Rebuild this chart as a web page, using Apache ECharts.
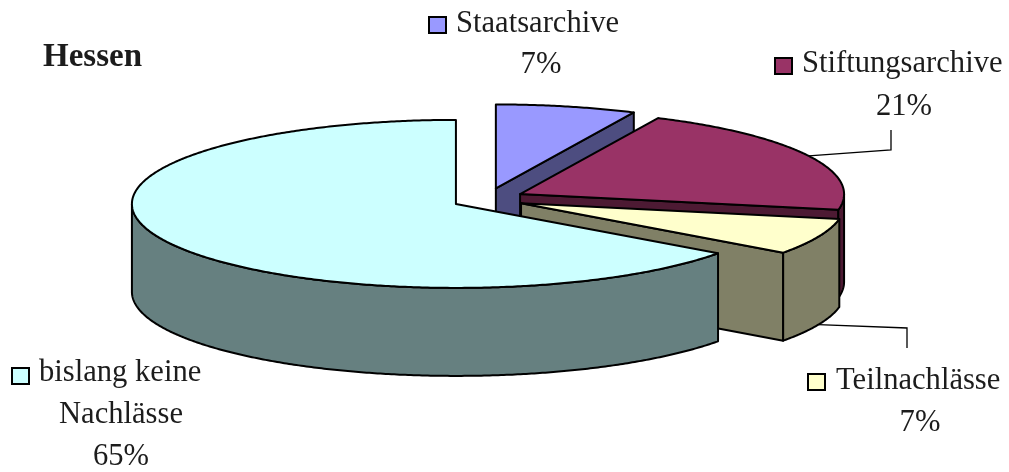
<!DOCTYPE html>
<html>
<head>
<meta charset="utf-8">
<title>Hessen</title>
<script src="https://cdn.jsdelivr.net/npm/echarts@6/dist/echarts.min.js"></script>
<style>
  html, body { margin: 0; padding: 0; background: #fff; }
  #chart { width: 1009px; height: 472px; }
</style>
</head>
<body>
<div id="chart"></div>
<script>
// Slices run clockwise from twelve o'clock.
const categories = ['Staatsarchive', 'Stiftungsarchive', 'Teilnachlässe', 'bislang keine'];
const categoryExtraLines = [[], [], [], ['Nachlässe']];
const shares = [7, 21, 7, 65];

const topColours = ['#9999FF', '#993366', '#FFFFCC', '#CCFFFF'];
const sideColours = ['#4D4D80', '#4D1A33', '#808066', '#668080'];

// Pie geometry: a tilted disc with every slice pulled out along its mid-angle.
const pie = {
  cx: 488, cy: 199, rx: 324, ry: 84, depth: 88,
  explode: 36, explodeTilt: 0.3
};

// Caption placement for each slice: swatch corner, text start, text baselines.
const captions = [
  { swatch: [429, 17], textX: 456, baseline: 33, centreX: 541, lineGap: 41 },
  { swatch: [775, 58], textX: 802, baseline: 73, centreX: 904, lineGap: 43 },
  { swatch: [808, 374], textX: 836, baseline: 390, centreX: 920, lineGap: 42 },
  { swatch: [12, 368], textX: 39, baseline: 382, centreX: 121, lineGap: 42 }
];

// Leader lines: bend points, from the rim outwards. Only the two side slices have one.
const leaders = [
  null,
  { bend: [[891, 150], [891, 130]], lower: false },
  { bend: [[907, 328], [907, 348]], lower: true },
  null
];

const FONT = '"Liberation Serif", serif';
const TEXT_COLOUR = '#1c1c1c';
const FONT_SIZE = 30.6;
const total = shares.reduce((a, b) => a + b, 0);
const rad = d => d * Math.PI / 180;

function sliceAngles(index) {
  let before = 0;
  for (let i = 0; i < index; i++) before += shares[i];
  const start = before / total * 360;
  return { start, end: start + shares[index] / total * 360 };
}

function rimPoint(centre, angle, drop) {
  return [
    centre[0] + pie.rx * Math.sin(rad(angle)),
    centre[1] - pie.ry * Math.cos(rad(angle)) + (drop || 0)
  ];
}

function arcPoints(centre, from, to, drop) {
  const pts = [];
  const steps = Math.max(2, Math.ceil((to - from) * 2));
  for (let i = 0; i <= steps; i++) {
    pts.push(rimPoint(centre, from + (to - from) * i / steps, drop));
  }
  return pts;
}

function textEl(text, x, baseline, align, weight) {
  return {
    type: 'text',
    silent: true,
    style: {
      text,
      x,
      y: baseline - FONT_SIZE * 0.29,
      textAlign: align,
      textVerticalAlign: 'middle',
      fill: TEXT_COLOUR,
      font: (weight || 'normal') + ' ' + FONT_SIZE + 'px ' + FONT
    }
  };
}

function renderSlice(params, api) {
  const i = params.dataIndex;
  const share = api.value(0);
  const { start, end } = sliceAngles(i);
  const mid = (start + end) / 2;
  const centre = [
    pie.cx + pie.explode * Math.sin(rad(mid)),
    pie.cy - pie.explode * pie.explodeTilt * Math.cos(rad(mid))
  ];
  const edge = { stroke: '#000', lineWidth: 2, lineJoin: 'round' };
  const children = [];
  const below = p => [p[0], p[1] + pie.depth];

  // Cut faces that turn towards the viewer.
  const cutFace = angle => {
    const rim = rimPoint(centre, angle);
    children.push({
      type: 'polygon',
      shape: { points: [centre, rim, below(rim), below(centre)] },
      style: Object.assign({ fill: sideColours[i] }, edge)
    });
  };
  if (end % 360 > 0 && end < 180) cutFace(end);
  if (start > 180) cutFace(start);

  // Curved outer wall, only the part on the near half of the disc.
  const wallFrom = Math.max(start, 90);
  const wallTo = Math.min(end, 270);
  if (wallTo > wallFrom) {
    const topArc = arcPoints(centre, wallFrom, wallTo);
    const lowArc = arcPoints(centre, wallFrom, wallTo, pie.depth).reverse();
    children.push({
      type: 'polygon',
      shape: { points: topArc.concat(lowArc) },
      style: Object.assign({ fill: sideColours[i] }, edge)
    });
  }

  // Top surface.
  children.push({
    type: 'polygon',
    shape: { points: [centre].concat(arcPoints(centre, start, end)) },
    style: Object.assign({ fill: topColours[i] }, edge)
  });

  // Leader from the rim at the slice's mid-angle.
  if (leaders[i]) {
    const from = rimPoint(centre, mid, leaders[i].lower ? pie.depth : 0);
    children.push({
      type: 'polyline',
      shape: { points: [from].concat(leaders[i].bend) },
      style: { stroke: '#000', lineWidth: 1.3, fill: null }
    });
  }

  // Caption: swatch, name, percentage.
  const cap = captions[i];
  children.push({
    type: 'rect',
    shape: { x: cap.swatch[0], y: cap.swatch[1], width: 17, height: 16 },
    style: { fill: topColours[i], stroke: '#000', lineWidth: 2 }
  });
  children.push(textEl(categories[i], cap.textX, cap.baseline, 'left'));
  let line = cap.baseline;
  categoryExtraLines[i].forEach(extra => {
    line += cap.lineGap;
    children.push(textEl(extra, cap.centreX, line, 'center'));
  });
  line += cap.lineGap;
  children.push(textEl(share + '%', cap.centreX, line, 'center'));

  return { type: 'group', children };
}

const chart = echarts.init(document.getElementById('chart'), null, { renderer: 'canvas' });
chart.setOption({
  backgroundColor: '#fff',
  animation: false,
  title: {
    text: 'Hessen',
    left: 43,
    top: 41,
    padding: 0,
    textStyle: { fontFamily: FONT, fontSize: 33, fontWeight: 'bold', color: TEXT_COLOUR }
  },
  series: [{
    type: 'custom',
    coordinateSystem: 'none',
    renderItem: renderSlice,
    clip: false,
    silent: true,
    data: shares.map((v, i) => ({ name: categories[i], value: [v] }))
  }]
});
</script>
</body>
</html>
